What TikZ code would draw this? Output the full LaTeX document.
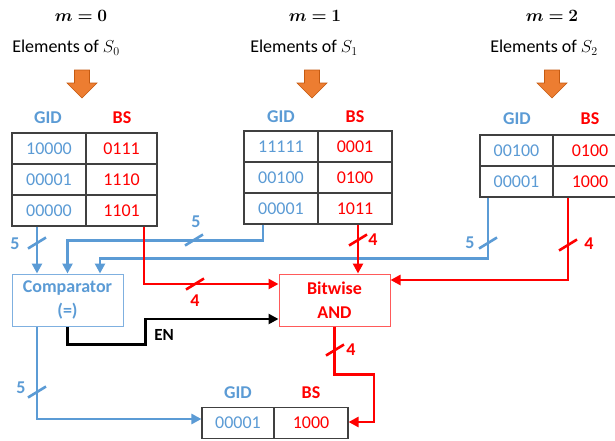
\documentclass[tikz,border=0pt]{standalone}
\usepackage{fontspec}
\setmainfont{Carlito}
\usepackage{bm}
\usetikzlibrary{arrows.meta,calc}
\definecolor{cblue}{HTML}{5B9BD5}
\definecolor{cred}{HTML}{FF0000}
\definecolor{corange}{HTML}{ED7D31}
\definecolor{corangedk}{HTML}{C55A11}
\definecolor{tabgray}{HTML}{404040}
\definecolor{boxblue}{HTML}{7FB0E0}
\definecolor{boxred}{HTML}{FF5A5A}
\tikzset{
  txt/.style={font=\fontsize{18}{21}\selectfont, inner sep=0pt},
  cell/.style={draw=tabgray, line width=1.1pt, minimum height=31pt, inner sep=0pt, font=\fontsize{18}{21}\selectfont},
  gcell/.style={cell, text=cblue},
  bcell/.style={cell, text=cred},
  hdrg/.style={font=\bfseries\fontsize{18}{21}\selectfont, text=cblue, inner sep=0pt},
  hdrb/.style={font=\bfseries\fontsize{18}{21}\selectfont, text=cred, inner sep=0pt},
  mlabel/.style={font=\fontsize{19}{22}\selectfont, inner sep=0pt},
  bl/.style={draw=cblue, line width=2.6pt},
  rd/.style={draw=cred, line width=2.6pt},
  bk/.style={draw=black, line width=2.6pt},
  tip/.style={-{Triangle[length=10pt,width=10pt]}},
  numb/.style={font=\bfseries\fontsize{18}{21}\selectfont, text=cblue, inner sep=0pt},
  numr/.style={font=\bfseries\fontsize{18}{21}\selectfont, text=cred, inner sep=0pt},
}
\newcommand\bitslash[2]{\draw[#1, line width=2.6pt] ($(#2)+(-9,5.5)$) -- ($(#2)+(9,-5.5)$);}
\newcommand\downarrowshape[1]{\filldraw[fill=corange, draw=corangedk, line width=0.6pt]
  (#1-7.5,70) -- (#1+7.5,70) -- (#1+7.5,83) -- (#1+15,83) -- (#1,98) -- (#1-15,83) -- (#1-7.5,83) -- cycle;}
\begin{document}
\begin{tikzpicture}[x=1pt,y=-1pt]
\clip (0,0) rectangle (615,440);
\fill[white] (0,0) rectangle (615,440);

% headings
\node[mlabel] (m0) at (81,16) {$\bm{m=0}$};
\node[mlabel] (m1) at (315,16) {$\bm{m=1}$};
\node[mlabel] (m2) at (552,16) {$\bm{m=2}$};
\node[txt] (e0) at (66,48) {Elements of $S_0$};
\node[txt] (e1) at (304,48) {Elements of $S_1$};
\node[txt] (e2) at (544,48) {Elements of $S_2$};
\downarrowshape{82}
\downarrowshape{312}
\downarrowshape{552}

% table 0
\node[hdrg] (h0g) at (48,118) {GID};
\node[hdrb] (h0b) at (122,118) {BS};
\node[gcell, minimum width=74pt] (t0g1) at (49,148.5) {10000};
\node[bcell, minimum width=71pt] (t0b1) at (121.5,148.5) {0111};
\node[gcell, minimum width=74pt] (t0g2) at (49,179.5) {00001};
\node[bcell, minimum width=71pt] (t0b2) at (121.5,179.5) {1110};
\node[gcell, minimum width=74pt] (t0g3) at (49,210.5) {00000};
\node[bcell, minimum width=71pt] (t0b3) at (121.5,210.5) {1101};

% table 1
\node[hdrg] (h1g) at (281,117) {GID};
\node[hdrb] (h1b) at (355,117) {BS};
\node[gcell, minimum width=74pt] (t1g1) at (281,146.5) {11111};
\node[bcell, minimum width=74pt] (t1b1) at (355,146.5) {0001};
\node[gcell, minimum width=74pt] (t1g2) at (281,177.5) {00100};
\node[bcell, minimum width=74pt] (t1b2) at (355,177.5) {0100};
\node[gcell, minimum width=74pt] (t1g3) at (281,208.5) {00001};
\node[bcell, minimum width=74pt] (t1b3) at (355,208.5) {1011};

% table 2
\node[hdrg] (h2g) at (517,119) {GID};
\node[hdrb] (h2b) at (590,119) {BS};
\node[gcell, minimum width=73pt] (t2g1) at (516.5,150.5) {00100};
\node[bcell, minimum width=74pt] (t2b1) at (590,150.5) {0100};
\node[gcell, minimum width=73pt] (t2g2) at (516.5,181.5) {00001};
\node[bcell, minimum width=74pt] (t2b2) at (590,181.5) {1000};

% output table
\node[hdrg] (hog) at (238,393) {GID};
\node[hdrb] (hob) at (311,393) {BS};
\node[gcell, minimum width=72pt] (outg) at (238,423) {00001};
\node[bcell, minimum width=74pt] (outb) at (311,423) {1000};

% boxes
\node[draw=boxblue, line width=1pt, minimum width=111pt, minimum height=52pt, align=center,
  font=\bfseries\fontsize{18}{24}\selectfont, text=cblue, inner sep=0pt] (cmp) at (67.5,300) {Comparator\\(=)};
\node[draw=boxred, line width=1pt, minimum width=111pt, minimum height=52pt, align=center,
  font=\bfseries\fontsize{18}{24}\selectfont, text=cred, inner sep=0pt] (and) at (334.5,300) {Bitwise\\AND};

% blue connectors
\draw[bl, tip] ([xshift=-12pt]t0g3.south) -- ([xshift=-30.5pt]cmp.north);
\draw[bl, tip] ([xshift=-18pt]t1g3.south) -- ++(0,16) -| (cmp.north);
\draw[bl, tip] ([xshift=-28.5pt]t2g2.south) -- ++(0,61) -| ([xshift=32.5pt]cmp.north);
\draw[bl, tip] ([xshift=-30.5pt]cmp.south) |- ([yshift=4pt]outg.west);

% red connectors
\draw[rd, tip] ([xshift=22.5pt]t0b3.south) |- ([yshift=16pt]and.west);
\draw[rd, tip] ([xshift=3pt]t1b3.south) -- ([xshift=23.5pt]and.north);
\draw[rd, tip] ([xshift=-22pt]t2b2.south) |- ([yshift=20pt]and.east);
\draw[rd, tip] (and.south) -- ++(0,48) -- ++(39.5,0) |- ([yshift=1pt]outb.east);

% enable
\draw[bk, tip] (cmp.south) -- ++(0,18) -- ++(78,0) |- ([yshift=-19pt]and.west);
\node[font=\bfseries\fontsize{17}{20}\selectfont, inner sep=0pt] (en) at (164,335) {EN};

% bus width marks
\bitslash{cblue}{37,243}
\node[numb] (w1) at (15,244) {5};
\bitslash{cblue}{194,240}
\node[numb] (w2) at (196,222) {5};
\bitslash{cblue}{488,243}
\node[numb] (w3) at (470,243) {5};
\bitslash{cblue}{37,392}
\node[numb] (w4) at (21,388) {5};
\bitslash{cred}{195,284}
\node[numr] (w5) at (195,301) {4};
\bitslash{cred}{358,240}
\node[numr] (w6) at (373,240) {4};
\bitslash{cred}{568,245}
\node[numr] (w7) at (589,244) {4};
\bitslash{cred}{335,350}
\node[numr] (w8) at (351,350) {4};
\end{tikzpicture}
\end{document}
